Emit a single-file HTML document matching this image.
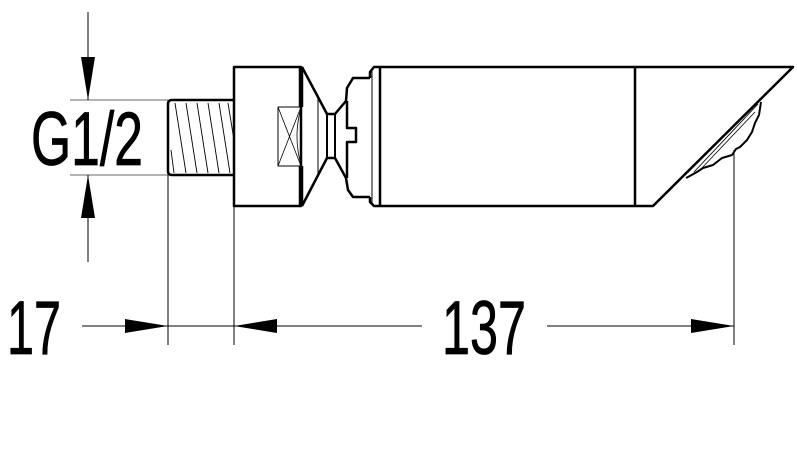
<!DOCTYPE html>
<html><head><meta charset="utf-8"><style>html,body{margin:0;padding:0;background:#fff}svg{display:block}</style></head>
<body>
<svg width="797" height="467" viewBox="0 0 797 467" xmlns="http://www.w3.org/2000/svg" font-family="Liberation Sans, sans-serif">
<g fill="none" stroke="#000" stroke-linejoin="round">
<!-- thread -->
<path d="M234 100 H172 Q168 100 168 104 V171 Q168 175 172 175 H234" stroke-width="2.5"/>
<g stroke-width="0.9">
<line x1="175" y1="103" x2="186" y2="173"/><line x1="186" y1="103" x2="197" y2="173"/>
<line x1="197" y1="103" x2="208" y2="173"/><line x1="208" y1="103" x2="219" y2="173"/>
<line x1="219" y1="103" x2="230" y2="173"/><line x1="228" y1="103" x2="234" y2="140"/>
<line x1="171" y1="150" x2="174" y2="173"/>
</g>
<!-- body -->
<rect x="234" y="67" width="67" height="139" stroke-width="2.5"/>
<line x1="301" y1="67" x2="301" y2="107" stroke-width="4.5"/>
<line x1="301" y1="166" x2="301" y2="206" stroke-width="4.5"/>
<rect x="278" y="107" width="23" height="59" stroke-width="1"/>
<path d="M278 107 L301 166 M301 107 L278 166" stroke-width="0.8"/>
<path d="M301 108 Q293 136 301 165" stroke-width="0.8"/>
<!-- cone -->
<path d="M302 67 L327 114 H335 L346 101 L347 88 L353 78 H370 M302 206 L327 158 H335 L346 178 L348 190 L353 197 H370" stroke-width="2.5"/>
<line x1="327" y1="114" x2="327" y2="158" stroke-width="2"/>
<line x1="335" y1="114" x2="335" y2="158" stroke-width="2"/>
<line x1="318" y1="98" x2="318" y2="176" stroke-width="1"/>
<path d="M347 101 V128 H356 V142 H347 V178" stroke-width="2.5"/>
<!-- ring -->
<path d="M370 78 V72 L374 67 H380 M370 197 V202 L374 206 H380" stroke-width="2.5"/>
<line x1="372" y1="70" x2="372" y2="204" stroke-width="1"/>
<line x1="380" y1="67" x2="380" y2="206" stroke-width="2.5"/>
<!-- cylinder + head -->
<path d="M380 67 H793 L653 206 H380" stroke-width="2.5"/>
<line x1="635" y1="67" x2="635" y2="206" stroke-width="2.5"/>
<path d="M686 178 L688 177 L697 172 L703 168 L713 165 L722 158 L732 155 L736 149 L740 147 L747 140 L752 132 L755 123 L759 115 L761 102" stroke-width="2"/>
<path d="M694 172 L758 104" stroke-width="0.9"/>
<path d="M700 170 L755 112" stroke-width="0.8"/>
<!-- dimension lines -->
<g stroke-width="1">
<line x1="70" y1="100" x2="168" y2="100" stroke="#666"/>
<line x1="70" y1="175" x2="168" y2="175" stroke="#666"/>
<line x1="88" y1="12" x2="88" y2="100"/>
<line x1="88" y1="175" x2="88" y2="262"/>
<line x1="168" y1="175" x2="168" y2="345"/>
<line x1="234" y1="206" x2="234" y2="345"/>
<line x1="734" y1="150" x2="734" y2="345"/>
<line x1="82" y1="326" x2="422" y2="326"/>
<line x1="547" y1="326" x2="734" y2="326"/>
</g>
</g>
<g fill="#000">
<polygon points="88,100 81,57 95,57"/>
<polygon points="88,175 81,218 95,218"/>
<polygon points="168,326 125,319 125,333"/>
<polygon points="234,326 277,319 277,333"/>
<polygon points="734,326 691,319 691,333"/>
</g>
<g font-size="76" fill="#000" stroke="#000" stroke-width="0.8">
<text x="31" y="165" textLength="112" lengthAdjust="spacingAndGlyphs">G1/2</text>
<text x="7" y="354" textLength="54" lengthAdjust="spacingAndGlyphs">17</text>
<text x="442" y="354" textLength="84" lengthAdjust="spacingAndGlyphs">137</text>
</g>
</svg>
</body></html>
